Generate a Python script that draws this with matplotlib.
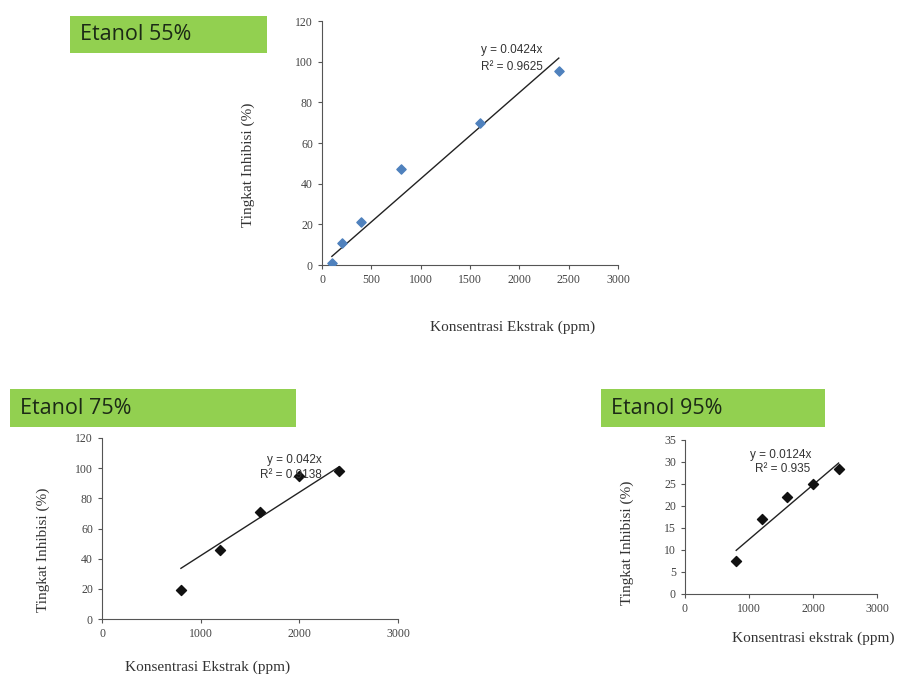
import matplotlib
matplotlib.use("Agg")
import matplotlib.pyplot as plt
from matplotlib.patches import Rectangle
import numpy as np

W, H = 902, 677

# Data
x55 = [100, 200, 400, 800, 1600, 2400]
y55 = [1, 11, 21, 47, 70, 95.5]
slope55 = 0.0424
eq55 = ["y = 0.0424x", "R² = 0.9625"]

x75 = [800, 1200, 1600, 2000, 2400]
y75 = [19, 46, 71, 95, 98]
slope75 = 0.042
eq75 = ["y = 0.042x", "R² = 0.9138"]

x95 = [800, 1200, 1600, 2000, 2400]
y95 = [7.5, 17, 22, 25, 28.3]
slope95 = 0.0124
eq95 = ["y = 0.0124x", "R² = 0.935"]

titles = ["Etanol 55%", "Etanol 75%", "Etanol 95%"]

fig = plt.figure(figsize=(W / 100, H / 100), dpi=100)
fig.patch.set_facecolor("white")

def px_axes(l, t, r, b):
    return fig.add_axes([l / W, 1 - b / H, (r - l) / W, (b - t) / H])

def style(ax, xmax, xticks, ymax, yticks, xlabel, ylabel, xlc, ylc):
    ax.set_xlim(0, xmax)
    ax.set_ylim(0, ymax)
    ax.set_xticks(xticks)
    ax.set_yticks(yticks)
    for s in ["top", "right"]:
        ax.spines[s].set_visible(False)
    for s in ["left", "bottom"]:
        ax.spines[s].set_color("#555555")
        ax.spines[s].set_linewidth(0.8)
    ax.tick_params(direction="out", length=3, width=0.8, colors="#555555",
                   labelsize=8.5, labelcolor="#444444")
    for lab in ax.get_xticklabels() + ax.get_yticklabels():
        lab.set_family("Liberation Serif")
    ax.set_xlabel(xlabel, family="Liberation Serif", fontsize=11, color="#333333")
    ax.set_ylabel(ylabel, family="Liberation Serif", fontsize=11, color="#333333")
    ax.xaxis.set_label_coords(*xlc)
    ax.yaxis.set_label_coords(*ylc)
    ax.xaxis.label.set_va("center")
    ax.yaxis.label.set_va("center")
    ax.patch.set_alpha(0)

def trend(ax, xs, slope, color="#222222"):
    xl = np.array([min(xs), max(xs)])
    ax.plot(xl, slope * xl, color=color, lw=1.0)

def eq(ax, x, y, s):
    ax.text(x, y, s, fontsize=8.5, family="Liberation Sans", color="#333333",
            va="center", ha="left")

def green_box(l, t, r, b, text):
    fig.patches.append(Rectangle((l / W, 1 - b / H), (r - l) / W, (b - t) / H,
                                 transform=fig.transFigure, facecolor="#92D050",
                                 edgecolor="none", zorder=0))
    fig.text((l + 10) / W, 1 - ((t + b) / 2) / H, text, family="Open Sans",
             fontsize=15.5, color="#1c2a16", va="center", ha="left")

# Top chart (55%)
ax1 = px_axes(322, 21, 618, 265)
style(ax1, 3000, range(0, 3001, 500), 120, range(0, 121, 20),
      "Konsentrasi Ekstrak (ppm)", "Tingkat Inhibisi (%)",
      (0.645, -0.254), (-0.25, 0.41))
trend(ax1, x55, slope55)
ax1.scatter(x55, y55, marker="D", s=22, color="#4F81BD", zorder=3)
eq(ax1, 1611, 105.7, eq55[0])
eq(ax1, 1611, 97.4, eq55[1])
green_box(70, 16, 267, 53, titles[0])

# Bottom left (75%)
ax2 = px_axes(102, 438, 398, 619)
style(ax2, 3000, range(0, 3001, 1000), 120, range(0, 121, 20),
      "Konsentrasi Ekstrak (ppm)", "Tingkat Inhibisi (%)",
      (0.355, -0.265), (-0.2, 0.381))
trend(ax2, x75, slope75)
ax2.scatter(x75, y75, marker="D", s=26, color="#111111", zorder=3)
eq(ax2, 1672, 105.4, eq75[0])
eq(ax2, 1601, 95.5, eq75[1])
green_box(10, 389, 296, 427, titles[1])

# Bottom right (95%)
ax3 = px_axes(685, 440, 877, 594)
style(ax3, 3000, range(0, 3001, 1000), 35, range(0, 36, 5),
      "Konsentrasi ekstrak (ppm)", "Tingkat Inhibisi (%)",
      (0.667, -0.286), (-0.302, 0.33))
trend(ax3, x95, slope95)
ax3.scatter(x95, y95, marker="D", s=26, color="#111111", zorder=3)
eq(ax3, 1016, 31.6, eq95[0])
eq(ax3, 1094, 28.4, eq95[1])
green_box(601, 389, 825, 427, titles[2])

fig.savefig("out.png", dpi=100, facecolor="white")
